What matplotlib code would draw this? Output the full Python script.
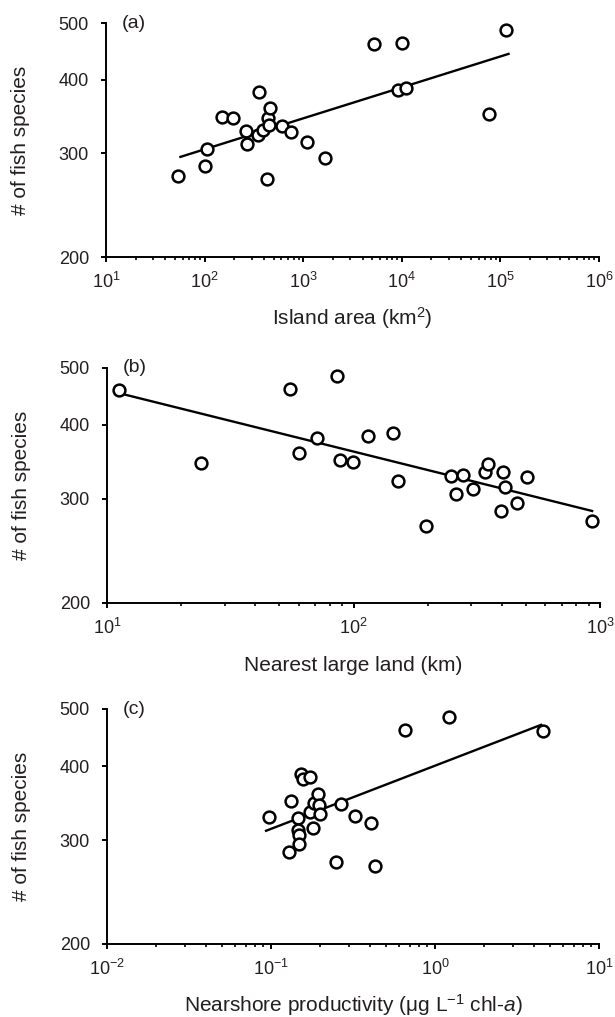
import matplotlib
matplotlib.use("Agg")
import matplotlib.pyplot as plt
from matplotlib.ticker import FixedLocator, FormatStrFormatter, NullLocator, NullFormatter, LogLocator

plt.rcParams['font.family'] = ['Liberation Sans', 'DejaVu Sans']
plt.rcParams['mathtext.fontset'] = 'custom'
plt.rcParams['mathtext.rm'] = 'Liberation Sans'
plt.rcParams['mathtext.it'] = 'Liberation Sans:italic'
plt.rcParams['mathtext.bf'] = 'Liberation Sans:bold'

cor = '#231f20'

# (a) area da ilha
area = [54, 101, 105, 151, 196, 262, 267, 355, 345, 389, 438, 459,
        446, 427, 615, 759, 1084, 1683, 5284, 10030, 9150, 10990, 76400, 113000]
especies_a = [275, 286, 305, 346, 345, 328, 311, 381, 322, 329, 345, 359,
              335, 271, 334, 326, 314, 295, 460, 462, 384, 387, 350, 487]
reta_a_x = [56.9, 120800]
reta_a_y = [296, 443]

# (b) distancia da terra grande
distancia = [11.2, 24.1, 55.3, 60.0, 70.8, 85.9, 88.5, 99.8, 115, 144, 152, 197,
             248, 260, 277, 306, 342, 352, 395, 403, 411, 460, 505, 927]
especies_b = [458, 345, 460, 358, 380, 485, 349, 346, 383, 387, 321, 270,
              328, 305, 329, 311, 333, 344, 286, 333, 314, 295, 327, 275]
reta_b_x = [10.9, 929]
reta_b_y = [454, 286]

# (c) produtividade
produtividade = [0.0975, 0.133, 0.128, 0.147, 0.147, 0.149, 0.148, 0.153, 0.157, 0.173, 0.173, 0.180,
                 0.182, 0.193, 0.195, 0.198, 0.248, 0.268, 0.327, 0.405, 0.433, 0.653, 1.217, 4.53]
especies_c = [328, 349, 286, 327, 312, 306, 295, 388, 380, 383, 334, 314,
              347, 359, 344, 332, 275, 345, 329, 321, 271, 460, 484, 459]
reta_c_x = [0.0933, 4.43]
reta_c_y = [311, 470]

y_ticks = [200, 300, 400, 500]

fig = plt.figure(figsize=(6.15, 10.17), dpi=100)


def painel(pos, x, y, rx, ry, xlim, letra, xlabel):
    ax = fig.add_axes(pos)
    ax.plot(x, y, 'o', ms=8.5, mfc='white', mec='black', mew=1.8, zorder=3)
    ax.plot(rx, ry, '-', color='black', lw=1.7, zorder=2)
    ax.set_xscale('log')
    ax.set_yscale('log')
    ax.set_xlim(xlim)
    ax.set_ylim(200, 500)
    ax.yaxis.set_major_locator(FixedLocator(y_ticks))
    ax.yaxis.set_major_formatter(FormatStrFormatter('%d'))
    ax.yaxis.set_minor_locator(NullLocator())
    ax.xaxis.set_major_locator(LogLocator(base=10, numticks=20))
    ax.xaxis.set_minor_locator(LogLocator(base=10, subs=range(2, 10), numticks=50))
    ax.xaxis.set_minor_formatter(NullFormatter())
    for lado in ['top', 'right']:
        ax.spines[lado].set_visible(False)
    for lado in ['left', 'bottom']:
        ax.spines[lado].set_linewidth(1.4)
        ax.spines[lado].set_color('black')
    ax.tick_params(axis='both', which='major', direction='out', length=3.8, width=1.4,
                   labelsize=13, labelcolor=cor, color='black')
    ax.tick_params(axis='y', pad=8.5)
    ax.tick_params(axis='x', pad=7)
    ax.tick_params(axis='x', which='minor', direction='out', length=2.2, width=1.2, color='black')
    ax.text(0.032, 1.0, letra, transform=ax.transAxes, fontsize=14, color=cor,
            ha='left', va='center')
    ax.set_ylabel('# of fish species', fontsize=15, color=cor)
    ax.yaxis.label.set_va('center')
    ax.yaxis.set_label_coords(-0.174, 0.5)
    ax.set_xlabel(xlabel, fontsize=15, color=cor)
    ax.xaxis.label.set_va('baseline')
    ax.xaxis.set_label_coords(0.5, -68 / 234)
    return ax


painel([106 / 615, (1017 - 257) / 1017, 493 / 615, 234 / 1017],
       area, especies_a, reta_a_x, reta_a_y, (1e1, 1e6), '(a)', 'Island area (km$^2$)')
painel([107 / 615, (1017 - 602.7) / 1017, 493 / 615, 235 / 1017],
       distancia, especies_b, reta_b_x, reta_b_y, (1e1, 1e3), '(b)', 'Nearest large land (km)')
painel([107 / 615, (1017 - 944) / 1017, 492 / 615, 235 / 1017],
       produtividade, especies_c, reta_c_x, reta_c_y, (1e-2, 1e1), '(c)',
       'Nearshore productivity (μg L$^{-1}$ chl-$\\mathit{a}$)')

fig.savefig('out.png', dpi=100)
